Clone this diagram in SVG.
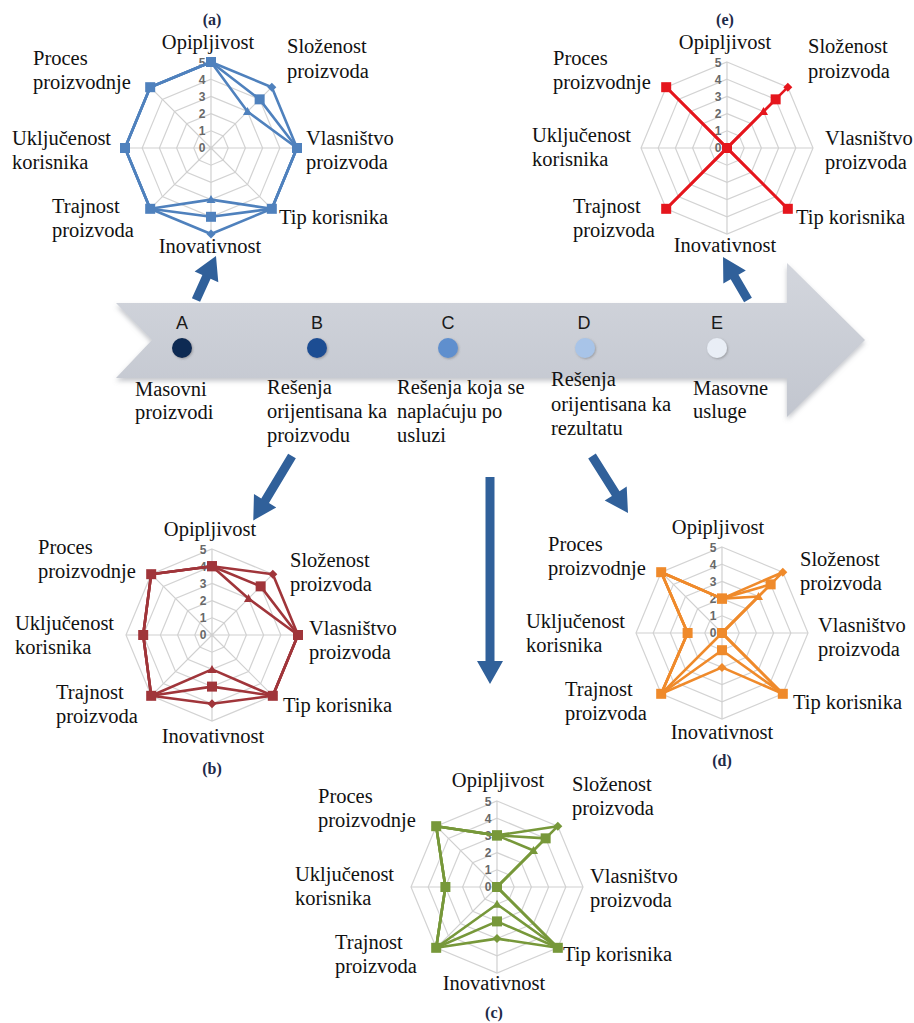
<svg xmlns="http://www.w3.org/2000/svg" xmlns:xlink="http://www.w3.org/1999/xlink" width="914" height="1023" viewBox="0 0 914 1023">
<style>
  text { font-family: "Liberation Serif", "Times New Roman", serif; fill: #111; }
  .lbl { font-family: "Liberation Serif", "Times New Roman", serif; font-size: 20.5px; }
  .mid { text-anchor: middle; }
  .ttl { font-family: "Liberation Serif", "Times New Roman", serif; font-size: 16px; font-weight: bold; fill: #1e2a48; text-anchor: middle; }
  .stage { font-family: "Liberation Sans", Arial, sans-serif; font-size: 18px; fill: #1a1a1a; text-anchor: middle; }
  .ring { fill: none; stroke: #d3d3d3; stroke-width: 1.2; }
  .spoke { stroke: #d0d0d0; stroke-width: 1.2; }
  .tick { font-family: "Liberation Sans", Arial, sans-serif; font-size: 12px; font-weight: bold; fill: #686868; text-anchor: middle; }
  .ser { fill: none; stroke-width: 2.6; stroke-linejoin: round; }
  .sa { stroke: #4f81bd; } .sb { stroke: #a0353a; } .sc { stroke: #77983a; } .sd { stroke: #ef8a2b; } .se { stroke: #e5161d; }
  .flow { fill: #30609a; }
</style>
<defs>
  <linearGradient id="bandFill" x1="0" y1="0" x2="0" y2="1">
    <stop offset="0" stop-color="#d3d6dd"/>
    <stop offset="1" stop-color="#c2c6cf"/>
  </linearGradient>
  <filter id="soft" x="-5%" y="-10%" width="110%" height="130%">
    <feDropShadow dx="0" dy="3" stdDeviation="2.5" flood-color="#7c818c" flood-opacity="0.45"/>
  </filter>
  <filter id="dotShade" x="-50%" y="-50%" width="200%" height="200%">
    <feDropShadow dx="1" dy="1" stdDeviation="1" flood-color="#555" flood-opacity="0.4"/>
  </filter>
  <!-- radar grid: five octagonal rings (R = 86) and eight spokes -->
  <g id="grid">
    <polygon class="ring" points="0,-17.2 12.16,-12.16 17.2,0 12.16,12.16 0,17.2 -12.16,12.16 -17.2,0 -12.16,-12.16"/>
    <polygon class="ring" points="0,-34.4 24.32,-24.32 34.4,0 24.32,24.32 0,34.4 -24.32,24.32 -34.4,0 -24.32,-24.32"/>
    <polygon class="ring" points="0,-51.6 36.49,-36.49 51.6,0 36.49,36.49 0,51.6 -36.49,36.49 -51.6,0 -36.49,-36.49"/>
    <polygon class="ring" points="0,-68.8 48.65,-48.65 68.8,0 48.65,48.65 0,68.8 -48.65,48.65 -68.8,0 -48.65,-48.65"/>
    <polygon class="ring" points="0,-86 60.81,-60.81 86,0 60.81,60.81 0,86 -60.81,60.81 -86,0 -60.81,-60.81"/>
    <path class="spoke" d="M0,0V-86M0,0L60.81,-60.81M0,0H86M0,0L60.81,60.81M0,0V86M0,0L-60.81,60.81M0,0H-86M0,0L-60.81,-60.81"/>
    <text class="tick" x="-9" y="4">0</text>
    <text class="tick" x="-9" y="-13">1</text>
    <text class="tick" x="-9" y="-30">2</text>
    <text class="tick" x="-9" y="-47">3</text>
    <text class="tick" x="-9" y="-64">4</text>
    <text class="tick" x="-9" y="-81">5</text>
  </g>
  <!-- series markers: square, diamond, triangle per colour -->
  <marker id="qa" viewBox="-6 -6 12 12" markerWidth="12" markerHeight="12" markerUnits="userSpaceOnUse"><rect x="-5" y="-5" width="10" height="10" fill="#4f81bd"/></marker>
  <marker id="da" viewBox="-6 -6 12 12" markerWidth="12" markerHeight="12" markerUnits="userSpaceOnUse"><path d="M0,-4.5L4.5,0 0,4.5 -4.5,0Z" fill="#4f81bd"/></marker>
  <marker id="ta" viewBox="-6 -6 12 12" markerWidth="12" markerHeight="12" markerUnits="userSpaceOnUse"><path d="M0,-4.5L4.5,3.5 -4.5,3.5Z" fill="#4f81bd"/></marker>
  <marker id="qb" viewBox="-6 -6 12 12" markerWidth="12" markerHeight="12" markerUnits="userSpaceOnUse"><rect x="-5" y="-5" width="10" height="10" fill="#a0353a"/></marker>
  <marker id="db" viewBox="-6 -6 12 12" markerWidth="12" markerHeight="12" markerUnits="userSpaceOnUse"><path d="M0,-4.5L4.5,0 0,4.5 -4.5,0Z" fill="#a0353a"/></marker>
  <marker id="tb" viewBox="-6 -6 12 12" markerWidth="12" markerHeight="12" markerUnits="userSpaceOnUse"><path d="M0,-4.5L4.5,3.5 -4.5,3.5Z" fill="#a0353a"/></marker>
  <marker id="qc" viewBox="-6 -6 12 12" markerWidth="12" markerHeight="12" markerUnits="userSpaceOnUse"><rect x="-5" y="-5" width="10" height="10" fill="#77983a"/></marker>
  <marker id="dc" viewBox="-6 -6 12 12" markerWidth="12" markerHeight="12" markerUnits="userSpaceOnUse"><path d="M0,-4.5L4.5,0 0,4.5 -4.5,0Z" fill="#77983a"/></marker>
  <marker id="tc" viewBox="-6 -6 12 12" markerWidth="12" markerHeight="12" markerUnits="userSpaceOnUse"><path d="M0,-4.5L4.5,3.5 -4.5,3.5Z" fill="#77983a"/></marker>
  <marker id="qd" viewBox="-6 -6 12 12" markerWidth="12" markerHeight="12" markerUnits="userSpaceOnUse"><rect x="-5" y="-5" width="10" height="10" fill="#ef8a2b"/></marker>
  <marker id="dd" viewBox="-6 -6 12 12" markerWidth="12" markerHeight="12" markerUnits="userSpaceOnUse"><path d="M0,-4.5L4.5,0 0,4.5 -4.5,0Z" fill="#ef8a2b"/></marker>
  <marker id="td" viewBox="-6 -6 12 12" markerWidth="12" markerHeight="12" markerUnits="userSpaceOnUse"><path d="M0,-4.5L4.5,3.5 -4.5,3.5Z" fill="#ef8a2b"/></marker>
  <marker id="qe" viewBox="-6 -6 12 12" markerWidth="12" markerHeight="12" markerUnits="userSpaceOnUse"><rect x="-5" y="-5" width="10" height="10" fill="#e5161d"/></marker>
  <marker id="de" viewBox="-6 -6 12 12" markerWidth="12" markerHeight="12" markerUnits="userSpaceOnUse"><path d="M0,-4.5L4.5,0 0,4.5 -4.5,0Z" fill="#e5161d"/></marker>
  <marker id="te" viewBox="-6 -6 12 12" markerWidth="12" markerHeight="12" markerUnits="userSpaceOnUse"><path d="M0,-4.5L4.5,3.5 -4.5,3.5Z" fill="#e5161d"/></marker>
</defs>

<rect width="914" height="1023" fill="#ffffff"/>

<!-- timeline band with the five service stages -->
<g id="timeline">
  <polygon points="116,303 787,303 787,263 865,340 787,417 787,378 116,378 152,340" fill="url(#bandFill)" filter="url(#soft)"/>
  <g id="stage-A">
    <text class="stage" x="182" y="329">A</text>
    <circle cx="182" cy="348" r="10" fill="#0e2b52" filter="url(#dotShade)"/>
    <text class="lbl" x="135" y="396">Masovni</text>
    <text class="lbl" x="135" y="419">proizvodi</text>
  </g>
  <g id="stage-B">
    <text class="stage" x="317" y="329">B</text>
    <circle cx="317" cy="348" r="10" fill="#1f4e93" filter="url(#dotShade)"/>
    <text class="lbl" x="267" y="394">Rešenja</text>
    <text class="lbl" x="267" y="418">orijentisana ka</text>
    <text class="lbl" x="267" y="442">proizvodu</text>
  </g>
  <g id="stage-C">
    <text class="stage" x="448" y="329">C</text>
    <circle cx="448" cy="348" r="10" fill="#5f8fce" filter="url(#dotShade)"/>
    <text class="lbl" x="397" y="394">Rešenja koja se</text>
    <text class="lbl" x="397" y="418">naplaćuju po</text>
    <text class="lbl" x="397" y="442">usluzi</text>
  </g>
  <g id="stage-D">
    <text class="stage" x="584" y="329">D</text>
    <circle cx="585" cy="348" r="10" fill="#a8c4e8" filter="url(#dotShade)"/>
    <text class="lbl" x="551" y="386">Rešenja</text>
    <text class="lbl" x="551" y="411">orijentisana ka</text>
    <text class="lbl" x="551" y="435">rezultatu</text>
  </g>
  <g id="stage-E">
    <text class="stage" x="717" y="329">E</text>
    <circle cx="717" cy="348" r="10" fill="#e9eef6" filter="url(#dotShade)"/>
    <text class="lbl" x="693" y="395">Masovne</text>
    <text class="lbl" x="693" y="418">usluge</text>
  </g>
</g>

<!-- connectors from stages to their profiles -->
<g id="connectors">
  <polygon class="flow" transform="translate(196,300) rotate(-65.56)" points="0,-4.5 25.3,-4.5 25.3,-13 48.3,0 25.3,13 25.3,4.5 0,4.5"/>
  <polygon class="flow" transform="translate(748,300) rotate(-120.17)" points="0,-4.5 26.7,-4.5 26.7,-13 49.7,0 26.7,13 26.7,4.5 0,4.5"/>
  <polygon class="flow" transform="translate(292,456) rotate(121)" points="0,-4.5 52.2,-4.5 52.2,-13 75.2,0 52.2,13 52.2,4.5 0,4.5"/>
  <polygon class="flow" transform="translate(490,477) rotate(90)" points="0,-4.5 184,-4.5 184,-13 207,0 184,13 184,4.5 0,4.5"/>
  <polygon class="flow" transform="translate(592,456) rotate(57.72)" points="0,-4.5 44.4,-4.5 44.4,-13 67.4,0 44.4,13 44.4,4.5 0,4.5"/>
</g>

<!-- profile (a) -->
<g id="chart-a">
  <text class="ttl" x="212" y="25">(a)</text>
  <g transform="translate(211,148)">
    <use href="#grid"/>
    <polygon class="ser sa" marker-start="url(#ta)" marker-mid="url(#ta)" marker-end="url(#ta)" points="0,-86 36.49,-36.49 86,0 60.81,60.81 0,51.6 -60.81,60.81 -86,0 -60.81,-60.81"/>
    <polygon class="ser sa" marker-start="url(#da)" marker-mid="url(#da)" marker-end="url(#da)" points="0,-86 60.81,-60.81 86,0 60.81,60.81 0,86 -60.81,60.81 -86,0 -60.81,-60.81"/>
    <polygon class="ser sa" marker-start="url(#qa)" marker-mid="url(#qa)" marker-end="url(#qa)" points="0,-86 48.65,-48.65 86,0 60.81,60.81 0,68.8 -60.81,60.81 -86,0 -60.81,-60.81"/>
  </g>
  <text class="lbl mid" x="208" y="49">Opipljivost</text>
  <text class="lbl" x="287" y="53">Složenost</text>
  <text class="lbl" x="287" y="78">proizvoda</text>
  <text class="lbl" x="33" y="65">Proces</text>
  <text class="lbl" x="33" y="89">proizvodnje</text>
  <text class="lbl" x="12" y="145">Uključenost</text>
  <text class="lbl" x="12" y="169">korisnika</text>
  <text class="lbl" x="306" y="145">Vlasništvo</text>
  <text class="lbl" x="306" y="169">proizvoda</text>
  <text class="lbl" x="52" y="213">Trajnost</text>
  <text class="lbl" x="52" y="237">proizvoda</text>
  <text class="lbl" x="279" y="224">Tip korisnika</text>
  <text class="lbl mid" x="210" y="253">Inovativnost</text>
</g>

<!-- profile (e) -->
<g id="chart-e">
  <text class="ttl" x="725" y="25">(e)</text>
  <g transform="translate(727,148)">
    <use href="#grid"/>
    <polygon class="ser se" marker-start="url(#te)" marker-mid="url(#te)" marker-end="url(#te)" points="0,0 36.49,-36.49 0,0 60.81,60.81 0,0 -60.81,60.81 0,0 -60.81,-60.81"/>
    <polygon class="ser se" marker-start="url(#de)" marker-mid="url(#de)" marker-end="url(#de)" points="0,0 60.81,-60.81 0,0 60.81,60.81 0,0 -60.81,60.81 0,0 -60.81,-60.81"/>
    <polygon class="ser se" marker-start="url(#qe)" marker-mid="url(#qe)" marker-end="url(#qe)" points="0,0 48.65,-48.65 0,0 60.81,60.81 0,0 -60.81,60.81 0,0 -60.81,-60.81"/>
  </g>
  <text class="lbl mid" x="725" y="49">Opipljivost</text>
  <text class="lbl" x="808" y="53">Složenost</text>
  <text class="lbl" x="808" y="78">proizvoda</text>
  <text class="lbl" x="553" y="65">Proces</text>
  <text class="lbl" x="553" y="89">proizvodnje</text>
  <text class="lbl" x="532" y="142">Uključenost</text>
  <text class="lbl" x="532" y="166">korisnika</text>
  <text class="lbl" x="825" y="145">Vlasništvo</text>
  <text class="lbl" x="825" y="169">proizvoda</text>
  <text class="lbl" x="573" y="213">Trajnost</text>
  <text class="lbl" x="573" y="237">proizvoda</text>
  <text class="lbl" x="796" y="224">Tip korisnika</text>
  <text class="lbl mid" x="725" y="252">Inovativnost</text>
</g>

<!-- profile (b) -->
<g id="chart-b">
  <g transform="translate(212,635)">
    <use href="#grid"/>
    <polygon class="ser sb" marker-start="url(#tb)" marker-mid="url(#tb)" marker-end="url(#tb)" points="0,-68.8 36.49,-36.49 86,0 60.81,60.81 0,34.4 -60.81,60.81 -68.8,0 -60.81,-60.81"/>
    <polygon class="ser sb" marker-start="url(#db)" marker-mid="url(#db)" marker-end="url(#db)" points="0,-68.8 60.81,-60.81 86,0 60.81,60.81 0,68.8 -60.81,60.81 -68.8,0 -60.81,-60.81"/>
    <polygon class="ser sb" marker-start="url(#qb)" marker-mid="url(#qb)" marker-end="url(#qb)" points="0,-68.8 48.65,-48.65 86,0 60.81,60.81 0,51.6 -60.81,60.81 -68.8,0 -60.81,-60.81"/>
  </g>
  <text class="lbl mid" x="210" y="536">Opipljivost</text>
  <text class="lbl" x="290" y="567">Složenost</text>
  <text class="lbl" x="290" y="591">proizvoda</text>
  <text class="lbl" x="38" y="554">Proces</text>
  <text class="lbl" x="38" y="578">proizvodnje</text>
  <text class="lbl" x="15" y="630">Uključenost</text>
  <text class="lbl" x="15" y="654">korisnika</text>
  <text class="lbl" x="309" y="635">Vlasništvo</text>
  <text class="lbl" x="309" y="659">proizvoda</text>
  <text class="lbl" x="56" y="699">Trajnost</text>
  <text class="lbl" x="56" y="723">proizvoda</text>
  <text class="lbl" x="283" y="712">Tip korisnika</text>
  <text class="lbl mid" x="213" y="743">Inovativnost</text>
  <text class="ttl" x="212" y="774">(b)</text>
</g>

<!-- profile (d) -->
<g id="chart-d">
  <g transform="translate(722,633)">
    <use href="#grid"/>
    <polygon class="ser sd" marker-start="url(#td)" marker-mid="url(#td)" marker-end="url(#td)" points="0,-34.4 36.49,-36.49 0,0 60.81,60.81 0,0 -60.81,60.81 -34.4,0 -60.81,-60.81"/>
    <polygon class="ser sd" marker-start="url(#dd)" marker-mid="url(#dd)" marker-end="url(#dd)" points="0,-34.4 60.81,-60.81 0,0 60.81,60.81 0,34.4 -60.81,60.81 -34.4,0 -60.81,-60.81"/>
    <polygon class="ser sd" marker-start="url(#qd)" marker-mid="url(#qd)" marker-end="url(#qd)" points="0,-34.4 48.65,-48.65 0,0 60.81,60.81 0,17.2 -60.81,60.81 -34.4,0 -60.81,-60.81"/>
  </g>
  <text class="lbl mid" x="718" y="534">Opipljivost</text>
  <text class="lbl" x="800" y="566">Složenost</text>
  <text class="lbl" x="800" y="590">proizvoda</text>
  <text class="lbl" x="548" y="551">Proces</text>
  <text class="lbl" x="548" y="575">proizvodnje</text>
  <text class="lbl" x="526" y="628">Uključenost</text>
  <text class="lbl" x="526" y="652">korisnika</text>
  <text class="lbl" x="818" y="632">Vlasništvo</text>
  <text class="lbl" x="818" y="656">proizvoda</text>
  <text class="lbl" x="565" y="696">Trajnost</text>
  <text class="lbl" x="565" y="720">proizvoda</text>
  <text class="lbl" x="793" y="709">Tip korisnika</text>
  <text class="lbl mid" x="722" y="739">Inovativnost</text>
  <text class="ttl" x="722" y="766">(d)</text>
</g>

<!-- profile (c) -->
<g id="chart-c">
  <g transform="translate(497,887)">
    <use href="#grid"/>
    <polygon class="ser sc" marker-start="url(#tc)" marker-mid="url(#tc)" marker-end="url(#tc)" points="0,-51.6 36.49,-36.49 0,0 60.81,60.81 0,17.2 -60.81,60.81 -51.6,0 -60.81,-60.81"/>
    <polygon class="ser sc" marker-start="url(#dc)" marker-mid="url(#dc)" marker-end="url(#dc)" points="0,-51.6 60.81,-60.81 0,0 60.81,60.81 0,51.6 -60.81,60.81 -51.6,0 -60.81,-60.81"/>
    <polygon class="ser sc" marker-start="url(#qc)" marker-mid="url(#qc)" marker-end="url(#qc)" points="0,-51.6 48.65,-48.65 0,0 60.81,60.81 0,34.4 -60.81,60.81 -51.6,0 -60.81,-60.81"/>
  </g>
  <text class="lbl mid" x="498" y="787">Opipljivost</text>
  <text class="lbl" x="572" y="791">Složenost</text>
  <text class="lbl" x="572" y="815">proizvoda</text>
  <text class="lbl" x="318" y="803">Proces</text>
  <text class="lbl" x="318" y="827">proizvodnje</text>
  <text class="lbl" x="295" y="881">Uključenost</text>
  <text class="lbl" x="295" y="905">korisnika</text>
  <text class="lbl" x="590" y="883">Vlasništvo</text>
  <text class="lbl" x="590" y="907">proizvoda</text>
  <text class="lbl" x="335" y="949">Trajnost</text>
  <text class="lbl" x="335" y="973">proizvoda</text>
  <text class="lbl" x="563" y="961">Tip korisnika</text>
  <text class="lbl mid" x="494" y="990">Inovativnost</text>
  <text class="ttl" x="494" y="1018">(c)</text>
</g>
</svg>
